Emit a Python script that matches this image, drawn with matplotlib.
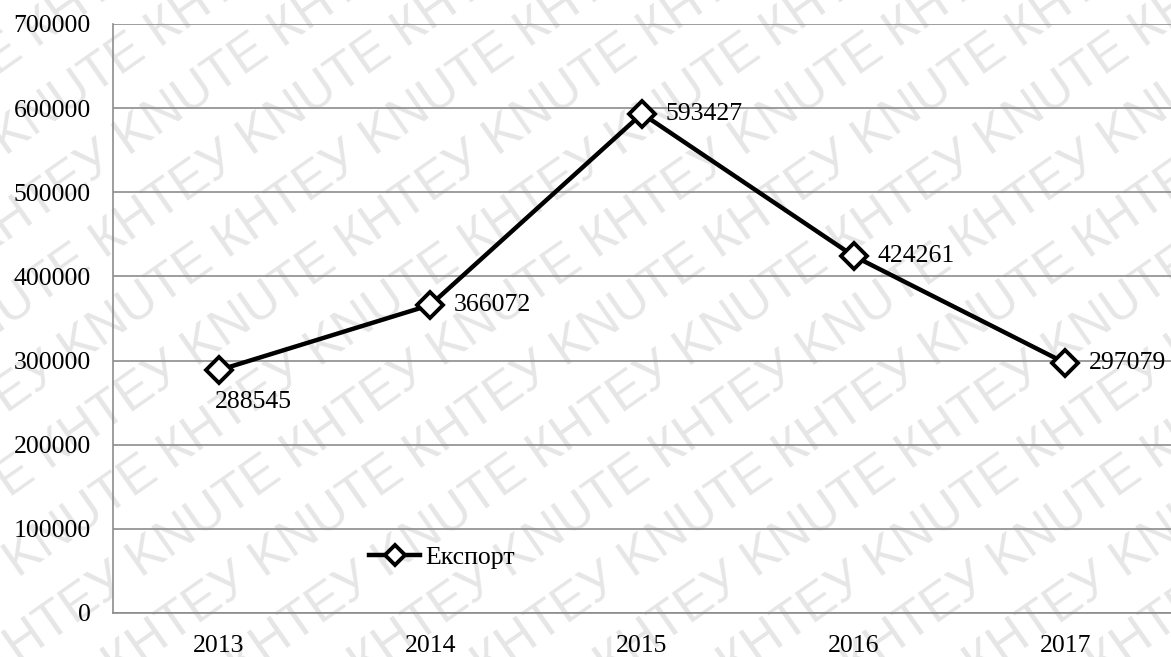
import numpy as np
import matplotlib
matplotlib.use("Agg")
import matplotlib.pyplot as plt

years = ["2013", "2014", "2015", "2016", "2017"]
export = [288545, 366072, 593427, 424261, 297079]
series_name = "Експорт"
watermark = "КНТЕУ KNUTE "

plt.rcParams['font.family'] = ['Liberation Serif', 'DejaVu Serif']

fig = plt.figure(figsize=(11.71, 6.57), dpi=100)

# watermark pattern behind the chart
for k in range(-13, 11):
    fig.text(k * 0.105, -0.05, watermark * 9, rotation=35, fontsize=37,
             color='#e6e6e6', ha='left', va='bottom', zorder=-5,
             family='Liberation Sans', rotation_mode='anchor')

ax = fig.add_axes([0.0965, 0.067, 0.9035, 0.8965])
ax.patch.set_alpha(0)

x = np.arange(len(years))
ax.plot(x, export, color='black', lw=3.2, marker='D', ms=13, mfc='white',
        mec='black', mew=2.8, label=series_name, zorder=3, clip_on=False)

for i, v in enumerate(export):
    if i == 0:
        ax.annotate(str(v), (x[i], v), xytext=(-3, -23), textcoords='offset points',
                    ha='left', va='center', fontsize=18.5)
    else:
        ax.annotate(str(v), (x[i], v), xytext=(17, 0), textcoords='offset points',
                    ha='left', va='center', fontsize=18.5, annotation_clip=False)

ax.set_xlim(-0.5, 4.5)
ax.set_ylim(0, 700000)
ax.set_yticks(range(0, 700001, 100000))
ax.set_xticks(x)
ax.set_xticklabels(years)
ax.tick_params(axis='both', length=0, labelsize=18.5)
ax.tick_params(axis='y', pad=16)
ax.tick_params(axis='x', pad=16)
ax.yaxis.grid(True, color='#8c8c8c', lw=1.2)
ax.set_axisbelow(True)
for s in ['top', 'right']:
    ax.spines[s].set_visible(False)
for s in ['left', 'bottom']:
    ax.spines[s].set_color('#8c8c8c')
    ax.spines[s].set_linewidth(1.2)

leg = ax.legend(loc='center left', bbox_to_anchor=(0.22, 0.095), frameon=False,
                fontsize=18.5, handlelength=2.0, handletextpad=0.2, markerscale=0.8)

fig.savefig("out.png", dpi=100)
